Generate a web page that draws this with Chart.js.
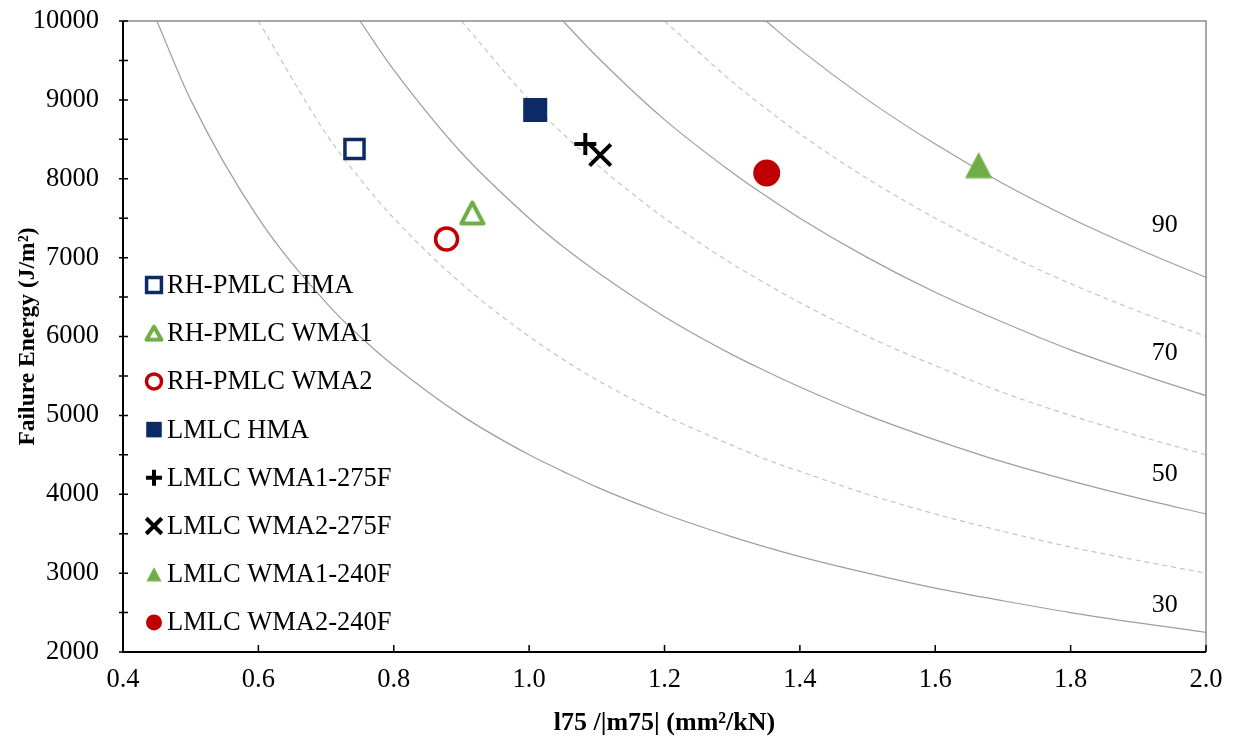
<!DOCTYPE html>
<html>
<head>
<meta charset="utf-8">
<script src="https://cdn.jsdelivr.net/npm/chart.js@4.4.1/dist/chart.umd.min.js"></script>
<style>
  body { margin: 0; background: #fff; }
  #wrap { width: 1240px; height: 740px; position: relative; }
</style>
</head>
<body>
<div id="wrap"><canvas id="energyChart"></canvas></div>
<script>
// measured points
const seriesNames = ['RH-PMLC HMA', 'RH-PMLC WMA1', 'RH-PMLC WMA2', 'LMLC HMA',
  'LMLC WMA1-275F', 'LMLC WMA2-275F', 'LMLC WMA1-240F', 'LMLC WMA2-240F'];
const flexIndex = [0.742, 0.916, 0.878, 1.009, 1.083, 1.105, 1.664, 1.351];
const failureEnergy = [8377, 7566, 7236, 8872, 8441, 8301, 8174, 8073];

// contour lines
const curveX = [0.45, 0.5, 0.6, 0.7, 0.75, 0.8, 0.9, 1.0, 1.05, 1.1, 1.2, 1.3, 1.35, 1.4, 1.5, 1.6, 1.7, 1.8, 1.9, 2.0];
const curve30 = [10000, 9000, 7500, 6430, 6000, 5630, 5000, 4500, 4290, 4090, 3750, 3460, 3330, 3210, 3000, 2810, 2650, 2500, 2370, 2250];
const curve40 = [null, null, 10000, 8570, 8000, 7500, 6670, 6000, 5710, 5450, 5000, 4620, 4440, 4290, 4000, 3750, 3530, 3330, 3160, 3000];
const curve50 = [null, null, null, null, 10000, 9380, 8330, 7500, 7140, 6820, 6250, 5770, 5560, 5360, 5000, 4690, 4410, 4170, 3950, 3750];
const curve60 = [null, null, null, null, null, null, 10000, 9000, 8570, 8180, 7500, 6920, 6670, 6430, 6000, 5630, 5290, 5000, 4740, 4500];
const curve70 = [null, null, null, null, null, null, null, null, 10000, 9550, 8750, 8080, 7780, 7500, 7000, 6560, 6180, 5830, 5530, 5250];
const curve80 = [null, null, null, null, null, null, null, null, null, null, 10000, 9230, 8890, 8570, 8000, 7500, 7060, 6670, 6320, 6000];
const curve90 = [null, null, null, null, null, null, null, null, null, null, null, null, 10000, 9640, 9000, 8440, 7940, 7500, 7110, 6750];

const curveLabels = ['90', '70', '50', '30'];
const curveLabelX = [1.939, 1.939, 1.939, 1.939];
const curveLabelY = [7414, 5791, 4257, 2596];

const xTicks = [0.4, 0.6, 0.8, 1.0, 1.2, 1.4, 1.6, 1.8, 2.0];

const FONT = '"Liberation Serif", "Times New Roman", serif';
const navy = '#0C2A66';
const green = '#70AD47';
const red = '#C00000';

// triangle marker centred on its bounding box, like the spreadsheet markers
function triangle(w, h, fill, stroke, lw) {
  const c = document.createElement('canvas');
  c.width = Math.ceil(w);
  c.height = Math.ceil(h);
  const g = c.getContext('2d');
  const p = lw / 2 + 0.5;
  g.beginPath();
  g.moveTo(c.width / 2, p);
  g.lineTo(c.width - p, c.height - p);
  g.lineTo(p, c.height - p);
  g.closePath();
  g.fillStyle = fill;
  g.fill();
  if (lw > 0) {
    g.lineJoin = 'round';
    g.lineWidth = lw;
    g.strokeStyle = stroke;
    g.stroke();
  }
  return c;
}

const markerStyles = [
  { pointStyle: 'rect', radius: 13.5, borderWidth: 3.5, borderColor: navy, backgroundColor: '#fff', legendRadius: 10.5, legendBorder: 3.5 },
  { pointStyle: triangle(27, 26, '#fff', green, 4), legendStyle: triangle(20, 18, '#fff', green, 4), radius: 13, borderWidth: 0, borderColor: green, backgroundColor: '#fff', legendRadius: 9.5, legendBorder: 0 },
  { pointStyle: 'circle', radius: 11, borderWidth: 3.5, borderColor: red, backgroundColor: '#fff', legendRadius: 7.5, legendBorder: 3.5 },
  { pointStyle: 'rect', radius: 17, borderWidth: 0, borderColor: navy, backgroundColor: navy, legendRadius: 11, legendBorder: 0 },
  { pointStyle: 'cross', radius: 11, borderWidth: 4, borderColor: '#000', backgroundColor: '#000', legendRadius: 8, legendBorder: 4 },
  { pointStyle: 'crossRot', radius: 15, borderWidth: 4, borderColor: '#000', backgroundColor: '#000', legendRadius: 11, legendBorder: 4 },
  { pointStyle: triangle(28, 27, green, green, 0), legendStyle: triangle(16, 15, green, green, 0), radius: 16.5, borderWidth: 0, borderColor: green, backgroundColor: green, legendRadius: 9.5, legendBorder: 0 },
  { pointStyle: 'circle', radius: 13.5, borderWidth: 0, borderColor: red, backgroundColor: red, legendRadius: 8, legendBorder: 0 }
];

function toPoints(ys) {
  return curveX.map((x, i) => ({ x: x, y: ys[i] })).filter(p => p.y !== null);
}

const datasets = [];
seriesNames.forEach((name, i) => {
  const s = markerStyles[i];
  datasets.push({
    label: name,
    data: [{ x: flexIndex[i], y: failureEnergy[i] }],
    pointStyle: s.pointStyle,
    pointRadius: s.radius,
    pointBorderWidth: s.borderWidth,
    pointBorderColor: s.borderColor,
    pointBackgroundColor: s.backgroundColor,
    legendStyle: s.legendStyle || s.pointStyle,
    legendRadius: s.legendRadius,
    legendBorder: s.legendBorder,
    order: 1
  });
});

const curves = [curve30, curve40, curve50, curve60, curve70, curve80, curve90];
curves.forEach((c, i) => {
  const dashed = i % 2 === 1;
  datasets.push({
    label: 'curve' + i,
    data: toPoints(c),
    showLine: true,
    pointRadius: 0,
    borderColor: dashed ? '#C4C4C4' : '#9E9E9E',
    borderWidth: 1.2,
    borderDash: dashed ? [5, 4] : [],
    cubicInterpolationMode: 'monotone',
    isCurve: true,
    order: 2
  });
});

const framePlugin = {
  id: 'frame',
  afterDatasetsDraw(chart) {
    const { ctx, chartArea: a, scales } = chart;
    ctx.save();
    // top and right edges
    ctx.strokeStyle = '#8C8C8C';
    ctx.lineWidth = 1.5;
    ctx.beginPath();
    ctx.moveTo(a.left, a.top);
    ctx.lineTo(a.right, a.top);
    ctx.lineTo(a.right, a.bottom);
    ctx.stroke();
    // axes
    ctx.strokeStyle = '#000';
    ctx.lineWidth = 2;
    ctx.beginPath();
    ctx.moveTo(a.left, a.top);
    ctx.lineTo(a.left, a.bottom);
    ctx.lineTo(a.right, a.bottom);
    ctx.stroke();
    // tick marks
    ctx.lineWidth = 1.5;
    ctx.beginPath();
    xTicks.forEach(v => {
      const px = scales.x.getPixelForValue(v);
      ctx.moveTo(px, a.bottom);
      ctx.lineTo(px, a.bottom - 7);
    });
    for (let v = 2000; v <= 10000; v += 500) {
      const py = scales.y.getPixelForValue(v);
      ctx.moveTo(a.left - 4, py);
      ctx.lineTo(a.left + 5, py);
    }
    ctx.stroke();
    // contour labels
    ctx.fillStyle = '#000';
    ctx.font = '26px ' + FONT;
    ctx.textAlign = 'center';
    ctx.textBaseline = 'middle';
    curveLabels.forEach((t, i) => {
      ctx.fillText(t, scales.x.getPixelForValue(curveLabelX[i]), scales.y.getPixelForValue(curveLabelY[i]));
    });
    // legend inside the plot
    const x0 = a.left + 31;
    const y0 = a.top + 264;
    const step = 48.2;
    ctx.textAlign = 'left';
    ctx.font = '26.5px ' + FONT;
    chart.data.datasets.forEach((ds, i) => {
      if (ds.isCurve) return;
      const y = y0 + i * step;
      ctx.fillStyle = ds.pointBackgroundColor;
      ctx.strokeStyle = ds.pointBorderColor;
      ctx.lineWidth = ds.legendBorder;
      Chart.helpers.drawPoint(ctx, {
        pointStyle: ds.legendStyle,
        radius: ds.legendRadius,
        rotation: 0,
        borderWidth: ds.legendBorder
      }, x0, y);
      ctx.fillStyle = '#000';
      ctx.fillText(ds.label, x0 + 13, y + 1);
    });
    ctx.restore();
  }
};

const ctx = document.getElementById('energyChart').getContext('2d');
const energyChart = new Chart(ctx, {
  type: 'scatter',
  data: { datasets: datasets },
  options: {
    responsive: true,
    maintainAspectRatio: false,
    animation: false,
    layout: { padding: { top: 21, right: 34, left: 0, bottom: 0 } },
    plugins: {
      legend: { display: false },
      tooltip: { enabled: false }
    },
    scales: {
      x: {
        type: 'linear',
        min: 0.4,
        max: 2.0,
        afterFit: s => { s.height = 88; s.paddingLeft = 0; s.paddingRight = 0; },
        afterBuildTicks: s => { s.ticks = xTicks.map(v => ({ value: v })); },
        grid: { display: false, drawTicks: false },
        border: { display: false },
        ticks: {
          padding: 12,
          color: '#000',
          font: { family: FONT, size: 26.5 },
          callback: v => Number(v).toFixed(1)
        },
        title: {
          display: true,
          text: 'l75 /|m75| (mm²/kN)',
          color: '#000',
          font: { family: FONT, size: 26, weight: 'bold' },
          padding: { top: 4, bottom: 1 }
        }
      },
      y: {
        min: 2000,
        max: 10000,
        afterFit: s => { s.width = 123; s.paddingTop = 0; s.paddingBottom = 0; },
        grid: { display: false, drawTicks: false },
        border: { display: false },
        ticks: {
          stepSize: 1000,
          padding: 24,
          color: '#000',
          font: { family: FONT, size: 26.5 },
          callback: v => String(v)
        },
        title: {
          display: true,
          text: 'Failure Energy (J/m²)',
          color: '#000',
          font: { family: FONT, size: 23.5, weight: 'bold' },
          padding: { top: 14, bottom: 4 }
        }
      }
    }
  },
  plugins: [framePlugin]
});
</script>
</body>
</html>
